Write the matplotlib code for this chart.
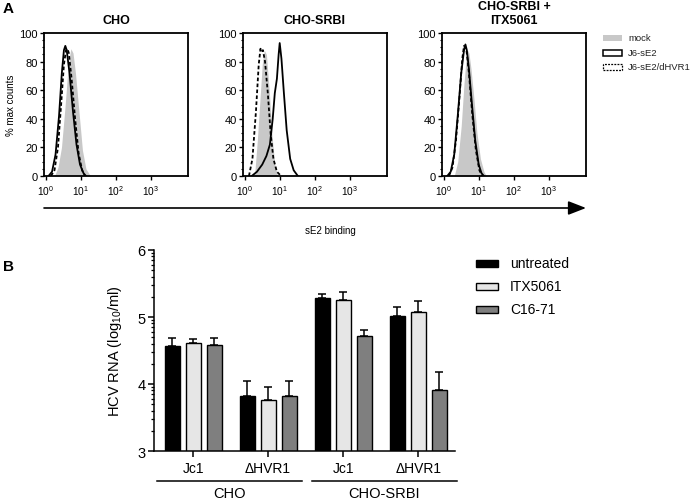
import numpy as np
import matplotlib
matplotlib.use("Agg")
import matplotlib.pyplot as plt
from matplotlib.patches import Rectangle, FancyArrowPatch
from matplotlib.ticker import FixedLocator, MultipleLocator, NullFormatter, LogLocator
import matplotlib.transforms as mtrans

plt.rcParams['font.family'] = ['Liberation Sans', 'DejaVu Sans']
plt.rcParams['mathtext.fontset'] = 'custom'
plt.rcParams['mathtext.rm'] = 'Liberation Sans'
plt.rcParams['mathtext.it'] = 'Liberation Sans:italic'
plt.rcParams['mathtext.bf'] = 'Liberation Sans:bold'

# ---------------- Panel A data (log10 fluorescence, % max counts) ----------------
panel_titles = ["CHO", "CHO-SRBI", "CHO-SRBI +\nITX5061"]
flow_labels = ["mock", "J6-sE2", "J6-sE2/dHVR1"]
flow_xticks = [1, 10, 100, 1000]
flow_xticklabels = [r"$10^0$", r"$10^1$", r"$10^2$", r"$10^3$"]
flow_yticks = [0, 20, 40, 60, 80, 100]

cho_mock_logx = [0.25, 0.35, 0.45, 0.55, 0.62, 0.68, 0.72, 0.78, 0.85, 0.95, 1.05, 1.15, 1.28]
cho_mock_y = [0, 6, 20, 48, 70, 84, 89, 86, 72, 45, 18, 5, 0]
cho_sol_logx = [0.08, 0.18, 0.28, 0.38, 0.46, 0.52, 0.56, 0.60, 0.68, 0.78, 0.88, 0.98, 1.08, 1.15]
cho_sol_y = [0, 3, 15, 42, 72, 88, 91, 88, 72, 45, 22, 8, 2, 0]
cho_dash_logx = [0.15, 0.25, 0.35, 0.44, 0.52, 0.58, 0.62, 0.66, 0.74, 0.84, 0.94, 1.04, 1.12]
cho_dash_y = [0, 4, 20, 50, 78, 88, 89, 86, 68, 40, 16, 4, 0]

srbi_mock_logx = [0.28, 0.36, 0.44, 0.50, 0.56, 0.62, 0.70, 0.78, 0.86, 0.94]
srbi_mock_y = [0, 25, 55, 78, 88, 85, 60, 28, 8, 0]
srbi_sol_logx = [0.20, 0.35, 0.50, 0.62, 0.72, 0.80, 0.86, 0.92, 0.97, 1.00, 1.05, 1.12, 1.20, 1.30, 1.40, 1.52]
srbi_sol_y = [0, 3, 8, 14, 22, 40, 58, 68, 85, 93, 82, 58, 32, 12, 4, 0]
srbi_dash_logx = [0.12, 0.22, 0.32, 0.40, 0.45, 0.48, 0.52, 0.58, 0.66, 0.74, 0.82, 0.92, 1.04]
srbi_dash_y = [0, 12, 45, 78, 89, 87, 88, 80, 58, 30, 12, 3, 0]

itx_mock_logx = [0.30, 0.40, 0.50, 0.58, 0.64, 0.68, 0.72, 0.78, 0.86, 0.95, 1.05, 1.15, 1.22]
itx_mock_y = [0, 10, 35, 65, 82, 88, 86, 75, 55, 30, 12, 3, 0]
itx_sol_logx = [0.10, 0.20, 0.30, 0.40, 0.50, 0.58, 0.62, 0.66, 0.72, 0.80, 0.90, 1.00, 1.08, 1.15]
itx_sol_y = [0, 3, 15, 42, 72, 88, 92, 88, 75, 52, 25, 8, 2, 0]
itx_dash_logx = [0.15, 0.25, 0.35, 0.45, 0.53, 0.58, 0.61, 0.65, 0.72, 0.82, 0.92, 1.02, 1.10]
itx_dash_y = [0, 6, 25, 55, 82, 91, 90, 88, 72, 42, 18, 4, 0]

# ---------------- Panel B data ----------------
strains = ["Jc1", "\u0394HVR1", "Jc1", "\u0394HVR1"]
cell_lines = ["CHO", "CHO-SRBI"]
treatments = ["untreated", "ITX5061", "C16-71"]
untreated_mean = [4.57, 3.82, 5.29, 5.02]
untreated_err = [0.11, 0.22, 0.06, 0.13]
itx_mean = [4.61, 3.76, 5.26, 5.08]
itx_err = [0.06, 0.19, 0.11, 0.16]
c16_mean = [4.58, 3.82, 4.71, 3.91]
c16_err = [0.10, 0.23, 0.09, 0.27]
bar_yticks = [3, 4, 5, 6]

W, H = 700, 502
fig = plt.figure(figsize=(W / 100, H / 100), dpi=100)


def fx(px):
    return px / W


def fy(py):
    return 1 - py / H


mock_color = '#c8c8c8'
panels = [
    (cho_mock_logx, cho_mock_y, cho_sol_logx, cho_sol_y, cho_dash_logx, cho_dash_y),
    (srbi_mock_logx, srbi_mock_y, srbi_sol_logx, srbi_sol_y, srbi_dash_logx, srbi_dash_y),
    (itx_mock_logx, itx_mock_y, itx_sol_logx, itx_sol_y, itx_dash_logx, itx_dash_y),
]
lefts = [44, 243, 442]
for i, (left, data) in enumerate(zip(lefts, panels)):
    ax = fig.add_axes([fx(left), fy(177), 144 / W, 143 / H])
    mx, my, sx, sy, dx, dy = data
    ax.fill_between(10 ** np.array(mx), my, 0, color=mock_color, lw=0, zorder=1)
    ax.plot(10 ** np.array(sx), sy, color='black', lw=1.3, zorder=3)
    ax.plot(10 ** np.array(dx), dy, color='black', lw=1.3, ls=(0, (2, 1.3)), zorder=2)
    ax.set_xscale('log')
    ax.set_xlim(10 ** -0.05, 10 ** 4.07)
    ax.set_ylim(0, 100)
    ax.xaxis.set_major_locator(FixedLocator(flow_xticks))
    ax.set_xticklabels(flow_xticklabels, fontsize=7.3)
    ax.xaxis.set_minor_locator(LogLocator(base=10, subs=np.arange(2, 10)))
    ax.xaxis.set_minor_formatter(NullFormatter())
    ax.yaxis.set_major_locator(FixedLocator(flow_yticks))
    ax.yaxis.set_minor_locator(MultipleLocator(5))
    ax.tick_params(axis='y', labelsize=8, length=3, width=1, pad=1.5)
    ax.tick_params(axis='x', length=3, width=1, pad=2)
    ax.tick_params(which='minor', length=1.8, width=0.8)
    for s in ax.spines.values():
        s.set_linewidth(1.3)
    ax.set_title(panel_titles[i], fontsize=9, fontweight='bold', pad=7, linespacing=1.2)
    if i == 0:
        ax.set_ylabel("% max counts", fontsize=7, labelpad=2)

# legend for panel A
ly = [38.5, 54, 68]
fig.add_artist(Rectangle((fx(603), fy(ly[0] + 3)), 19 / W, 6 / H, transform=fig.transFigure,
                         facecolor=mock_color, edgecolor='none'))
fig.add_artist(Rectangle((fx(603), fy(ly[1] + 3)), 19 / W, 6 / H, transform=fig.transFigure,
                         facecolor='white', edgecolor='black', lw=1.1))
fig.add_artist(Rectangle((fx(603), fy(ly[2] + 3)), 19 / W, 6 / H, transform=fig.transFigure,
                         facecolor='white', edgecolor='black', lw=0.9, ls=(0, (1.5, 1))))
for lab, y in zip(flow_labels, ly):
    fig.text(fx(628), fy(y), lab, fontsize=6.8, va='center', ha='left', color='#222222')

# arrow and axis label
fig.add_artist(FancyArrowPatch((fx(44), fy(209)), (fx(586), fy(209)), transform=fig.transFigure,
                               arrowstyle='-|>,head_length=0.9,head_width=0.35', mutation_scale=12,
                               lw=1.2, color='black', shrinkA=0, shrinkB=0))
fig.text(fx(330), fy(231), "sE2 binding", fontsize=7, ha='center', va='center')

fig.text(fx(8), fy(9), "A", fontsize=11, fontweight='bold', ha='center', va='center')
fig.text(fx(8), fy(267), "B", fontsize=11, fontweight='bold', ha='center', va='center')

# ---------------- Panel B ----------------
axb = fig.add_axes([fx(154), fy(452), 301 / W, 201 / H])
xpos = np.arange(len(strains))
bw = 0.2
off = 0.28
colors = ['black', '#e6e6e6', '#7f7f7f']
means = [untreated_mean, itx_mean, c16_mean]
errs = [untreated_err, itx_err, c16_err]
for k in range(3):
    xs = xpos + (k - 1) * off
    axb.bar(xs, means[k], width=bw, color=colors[k], edgecolor='black', lw=1.0, zorder=2)
    axb.errorbar(xs, means[k], yerr=[np.zeros(len(errs[k])), errs[k]], fmt='none',
                 ecolor='black', elinewidth=1.1, capsize=3, capthick=1.1, zorder=1)
axb.set_ylim(3, 6)
axb.set_xlim(-0.52, 3.49)
axb.spines['top'].set_visible(False)
axb.spines['right'].set_visible(False)
axb.spines['left'].set_linewidth(1.1)
axb.spines['bottom'].set_linewidth(1.1)
axb.set_yticks(bar_yticks)
axb.set_yticklabels([str(v) for v in bar_yticks], fontsize=10.5)
minor = [d + np.log10(k) for d in bar_yticks[:-1] for k in range(2, 10)]
axb.yaxis.set_minor_locator(FixedLocator(minor))
axb.tick_params(axis='y', length=4, width=1.1, pad=2)
axb.tick_params(axis='y', which='minor', length=2.2, width=0.9)
axb.set_xticks(xpos)
axb.set_xticklabels(strains, fontsize=10)
axb.tick_params(axis='x', length=4, width=1.1, pad=3)
axb.set_ylabel("HCV RNA (log$_{10}$/ml)", fontsize=10.5, labelpad=10)

trans = mtrans.blended_transform_factory(axb.transData, axb.transAxes)
brackets = [(-0.48, 1.45), (1.59, 3.51)]
for (a, b), lab in zip(brackets, cell_lines):
    axb.plot([a, b], [-0.147, -0.147], transform=trans, color='black', lw=1.1, clip_on=False)
    axb.text((a + b) / 2, -0.208, lab, transform=trans, fontsize=10.5, ha='center', va='center')

# legend for panel B
lby = [264, 287, 310]
for c, lab, y in zip(colors, treatments, lby):
    fig.add_artist(Rectangle((fx(476), fy(y + 3.5)), 22 / W, 7 / H, transform=fig.transFigure,
                             facecolor=c, edgecolor='black', lw=1.0))
    fig.text(fx(510), fy(y), lab, fontsize=10, va='center', ha='left')

fig.savefig("out.png", dpi=100)
